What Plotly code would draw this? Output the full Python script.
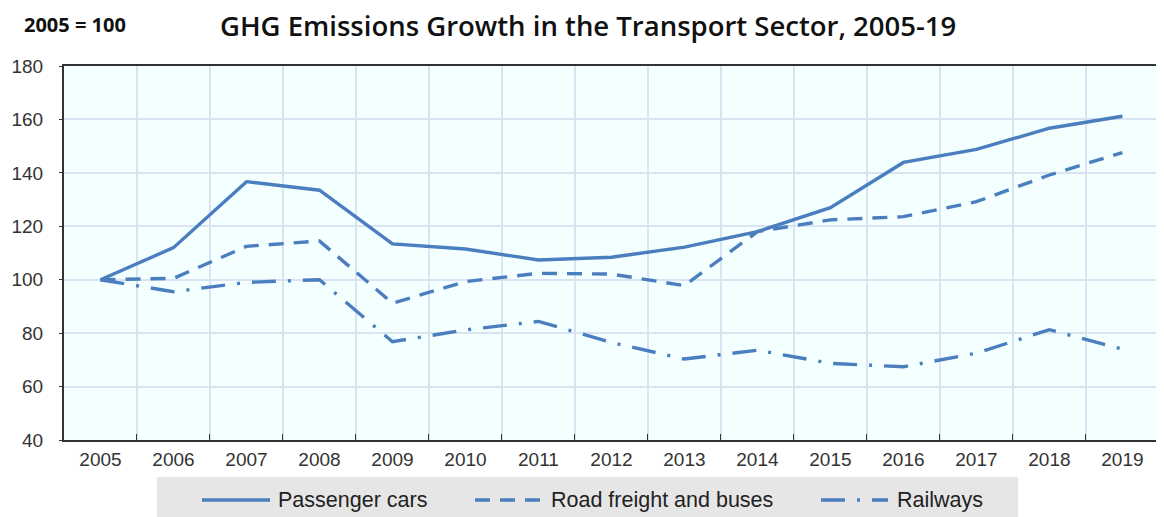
import plotly.graph_objects as go

years = ["2005", "2006", "2007", "2008", "2009", "2010", "2011", "2012",
         "2013", "2014", "2015", "2016", "2017", "2018", "2019"]
passenger_cars = [100, 112, 136.7, 133.5, 113.4, 111.5, 107.4, 108.4,
                  112.2, 118, 127, 143.9, 148.8, 156.7, 161.2]
road_freight = [100, 100.5, 112.5, 114.5, 91.2, 99.3, 102.4, 102.1,
                97.8, 118, 122.4, 123.6, 129.2, 139.2, 147.6]
railways = [100, 95.5, 99, 100, 76.8, 81.2, 84.4, 76.5,
            70.3, 73.6, 68.7, 67.4, 72.5, 81.3, 74]

series_names = ["Passenger cars", "Road freight and buses", "Railways"]
series_dashes = ["solid", "15px,10px", "24px,12px,3px,12px"]
line_color = "#4A7EBE"

# The page body adds an 8px offset; size the figure so it fills the window
OFF = 8
W, H = 1164 - OFF, 517 - OFF
L, R, T, B = 64 - OFF, 0, 66 - OFF, 517 - 440
pw, ph = W - L - R, H - T - B


def px_x(x):
    return (x - OFF - L) / pw


def px_y(y):
    return 1 + (T - (y - OFF)) / ph


fig = go.Figure()
for name, vals, dash in zip(series_names, [passenger_cars, road_freight, railways], series_dashes):
    fig.add_trace(go.Scatter(x=years, y=vals, name=name, mode="lines",
                             line=dict(color=line_color, width=3.4, dash=dash)))

# Custom legend (box, symbols, labels) to mimic the original layout
shapes = [dict(type="rect", xref="paper", yref="paper",
               x0=px_x(157), x1=px_x(1018), y0=px_y(477), y1=px_y(519),
               fillcolor="#E6E6E6", line=dict(width=0), layer="below")]
annotations = []
legend_sym_x = [(202, 270), (475, 545), (821, 888)]
legend_txt_x = [276, 549, 895]
for name, dash, (s0, s1), tx in zip(series_names, series_dashes, legend_sym_x, legend_txt_x):
    shapes.append(dict(type="line", xref="paper", yref="paper",
                       x0=px_x(s0), x1=px_x(s1), y0=px_y(500), y1=px_y(500),
                       line=dict(color=line_color, width=3.4, dash=dash)))
    annotations.append(dict(text=name, xref="paper", yref="paper", x=px_x(tx), y=px_y(500),
                            showarrow=False, xanchor="left", yanchor="middle",
                            font=dict(family="Liberation Sans, Arial, sans-serif", size=21.5,
                                      color="#222")))

annotations.append(dict(text="<b>2005 = 100</b>", x=px_x(23), y=px_y(24), xref="paper", yref="paper",
                        showarrow=False, xanchor="left", yanchor="middle", borderpad=0,
                        font=dict(family="Open Sans, sans-serif", size=20, color="#111")))
annotations.append(dict(text="GHG Emissions Growth in the Transport Sector, 2005-19",
                        x=px_x(588), y=px_y(OFF + 1), xref="paper", yref="paper",
                        showarrow=False, xanchor="center", yanchor="top", borderpad=0,
                        yshift=3,
                        font=dict(family="Open Sans, sans-serif", size=27.5, color="#111",
                                  weight=600)))

fig.update_layout(
    width=W, height=H,
    margin=dict(l=L, r=R, t=T, b=B, autoexpand=False),
    paper_bgcolor="white",
    plot_bgcolor="#F4FFFF",
    font=dict(family="Liberation Sans, Arial, sans-serif", size=19, color="#333"),
    showlegend=False,
    shapes=shapes,
    annotations=annotations,
)

fig.update_xaxes(type="category", tickson="boundaries", ticks="inside", ticklen=6,
                 tickcolor="#333", showline=True, linecolor="#333", linewidth=2,
                 mirror=True, showgrid=True, gridcolor="#D9E3F2", gridwidth=2,
                 range=[-0.5, 14.57], ticklabelstandoff=1, automargin=False)
fig.update_yaxes(range=[40, 180], dtick=20, ticks="outside", ticklen=3, tickcolor="#333",
                 showline=True, linecolor="#333", linewidth=2, showgrid=True,
                 gridcolor="#D9E3F2", gridwidth=2, zeroline=False, ticklabelstandoff=12,
                 automargin=False)

fig.write_html("out.html")
